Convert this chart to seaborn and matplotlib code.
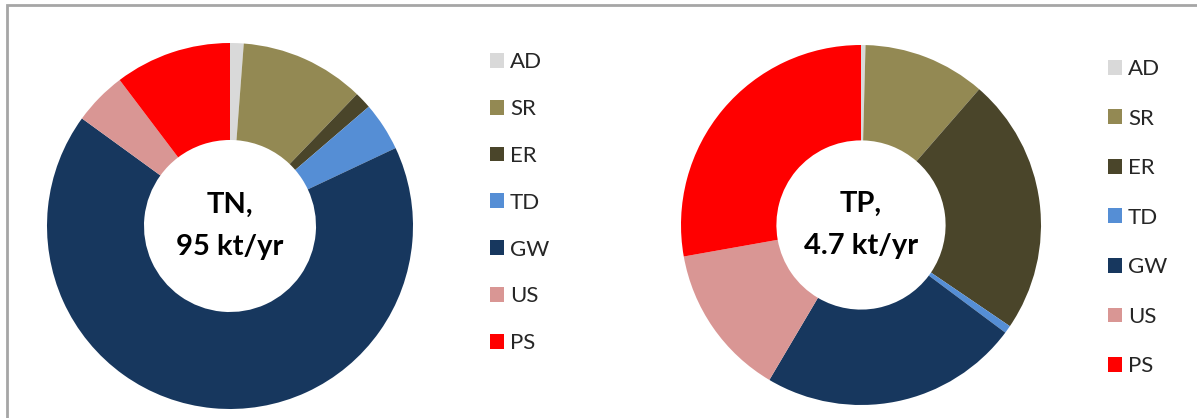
import numpy as np
import matplotlib
matplotlib.use("Agg")
import matplotlib.pyplot as plt
import seaborn as sns
from matplotlib.patches import Patch, Rectangle

# DATA (percent shares)
sources = ["AD", "SR", "ER", "TD", "GW", "US", "PS"]
tn_share = [1.2, 11.0, 1.5, 4.3, 67.0, 4.7, 10.3]
tp_share = [0.4, 11.0, 23.1, 0.7, 23.3, 13.7, 27.8]
tn_label = "TN,\n95 kt/yr"
tp_label = "TP,\n4.7 kt/yr"

colors = ["#D9D9D9", "#938953", "#4A452A", "#558ED5", "#17375E", "#D99694", "#FF0000"]

sns.set_theme(style="white")
plt.rcParams["font.family"] = ["Lato", "DejaVu Sans"]

W, H = 1197, 418
fig = plt.figure(figsize=(W / 100, H / 100), dpi=100)
fig.patch.set_facecolor("white")

# light grey frame (left + top only visible in the crop)
fig.add_artist(Rectangle((7 / W, -0.1), 2.0, 1.1 - 5 / H, transform=fig.transFigure,
                         fill=False, edgecolor="#A6A6A6", linewidth=2))


def donut(cx, cy, r, values, label, leg_x, leg_y, spacing):
    ax = fig.add_axes([(cx - r) / W, (H - cy - r) / H, 2 * r / W, 2 * r / H])
    ax.pie(values, colors=colors, startangle=90, counterclock=False, radius=1,
           wedgeprops=dict(width=0.53, linewidth=0))
    ax.set_xlim(-1, 1)
    ax.set_ylim(-1, 1)
    ax.set_aspect("equal")
    ax.axis("off")
    ax.text(0, 0.0, label, ha="center", va="center", fontsize=21,
            fontweight="bold", linespacing=1.75, color="black")
    handles = [Patch(facecolor=c, edgecolor="none") for c in colors]
    fig.legend(handles, sources, loc="upper left",
               bbox_to_anchor=(leg_x / W, 1 - leg_y / H),
               frameon=False, fontsize=16, handlelength=0.65, handleheight=0.65,
               handletextpad=0.25, labelspacing=spacing, borderpad=0, borderaxespad=0)


donut(230, 226, 183, tn_share, tn_label, 490, 52, 1.21)
donut(861, 225, 180, tp_share, tp_label, 1108, 59, 1.33)

fig.savefig("out.png", dpi=100, facecolor="white")
